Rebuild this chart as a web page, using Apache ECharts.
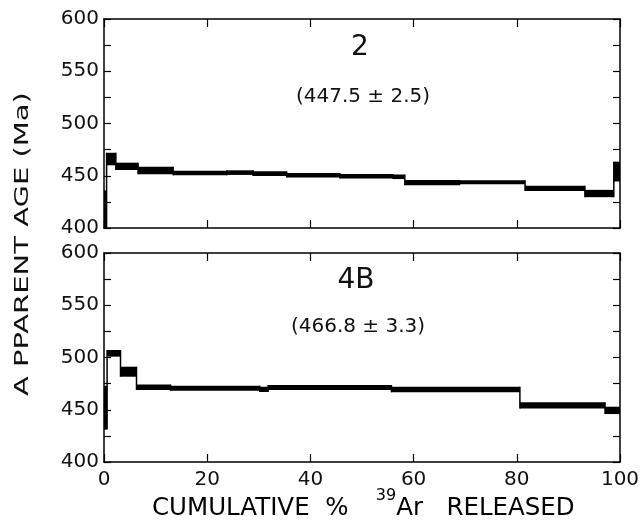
<!DOCTYPE html>
<html><head><meta charset="utf-8">
<script src="https://cdn.jsdelivr.net/npm/echarts@6/dist/echarts.min.js"></script>
<style>html,body{margin:0;padding:0;background:#fff}#c{width:643px;height:529px}</style>
</head><body><div id="c"></div>
<script>
// ---- data ----
const xTickLabels = ['0','20','40','60','80','100'];
const yTickLabels = ['400','450','500','550','600'];
// Sample 2: step edges (cumulative % 39Ar), apparent ages (Ma), half-errors (Ma)
const s2Edges = [0, 0.5, 2.3, 6.6, 13.4, 23.8, 28.9, 35.4, 45.7, 56.0, 58.3, 68.9, 81.6, 93.2, 98.8, 100];
const s2Age   = [418, 466, 459, 455, 452.7, 453, 452, 450.5, 449.5, 449, 443.5, 444, 438, 433, 454];
const s2Err   = [18, 6, 3.5, 3.5, 2.2, 2.2, 2.2, 2.2, 2.2, 2.2, 2.5, 1.8, 2.5, 3.5, 9.5];
// Sample 4B
const s4Edges = [0, 0.6, 3.2, 6.3, 12.9, 30.2, 31.8, 55.7, 80.6, 97.1, 100];
const s4Age   = [452, 504, 486.4, 471.5, 470.6, 469.5, 471.3, 469.3, 454.2, 449.4];
const s4Err   = [21, 3.2, 4.8, 2.6, 2.4, 2.5, 2.4, 2.6, 2.9, 3.5];
const panelNames = ['2', '4B'];
const plateauText = ['(447.5 \u00b1 2.5)', '(466.8 \u00b1 3.3)'];

function boxes(edges, ages, errs){
  return ages.map((a,i)=>[edges[i], edges[i+1], a-errs[i], a+errs[i]]);
}
function links(edges, ages, errs){
  const out=[];
  for(let i=1;i<ages.length;i++){
    const lo=Math.min(ages[i-1]-errs[i-1], ages[i]-errs[i]);
    const hi=Math.max(ages[i-1]+errs[i-1], ages[i]+errs[i]);
    out.push([edges[i], lo, hi]);
  }
  return out;
}
function renderBox(params, api){
  const p1 = api.coord([api.value(0), api.value(3)]);
  const p2 = api.coord([api.value(1), api.value(2)]);
  const h = Math.max(p2[1]-p1[1], 4);
  return {type:'rect', shape:{x:p1[0], y:p1[1], width:p2[0]-p1[0], height:h}, style:{fill:'#000'}};
}
function renderLink(params, api){
  const a = api.coord([api.value(0), api.value(1)]);
  const b = api.coord([api.value(0), api.value(2)]);
  return {type:'line', shape:{x1:a[0], y1:a[1], x2:b[0], y2:b[1]}, style:{stroke:'#000', lineWidth:1.5}};
}

const FONT = 'DejaVu Sans';
const grids = [
  {left:104, right:23, top:19, height:209},
  {left:104, right:23, top:253, height:209}
];
const xAxes=[], yAxes=[];
for(let g=0; g<2; g++){
  const base = {
    gridIndex:g, type:'value', min:0, max:100, interval:20,
    axisLine:{show:true, onZero:false, lineStyle:{color:'#000', width:1.5}},
    axisTick:{show:true, inside:true, length:8, lineStyle:{color:'#000', width:1.2}},
    splitLine:{show:false}
  };
  xAxes.push(Object.assign({}, base, {position:'bottom',
    axisLabel:{show:g===1, color:'#111', fontSize:20, fontFamily:FONT, margin:8,
      formatter:(v)=>xTickLabels[Math.round(v/20)]}}));
  xAxes.push(Object.assign({}, base, {position:'top', axisLabel:{show:false}}));
  const ybase = {
    gridIndex:g, type:'value', min:400, max:600, interval:50,
    axisLine:{show:true, onZero:false, lineStyle:{color:'#000', width:1.5}},
    axisTick:{show:true, inside:true, length:7, lineStyle:{color:'#000', width:1.2}},
    minorTick:{show:true, splitNumber:2, length:7, lineStyle:{color:'#000', width:1.2}},
    splitLine:{show:false}
  };
  yAxes.push(Object.assign({}, ybase, {position:'left',
    axisLabel:{show:true, color:'#111', fontSize:20, fontFamily:FONT, margin:5,
      formatter:(v)=>yTickLabels[Math.round((v-400)/50)]}}));
  yAxes.push(Object.assign({}, ybase, {position:'right', axisLabel:{show:false}}));
}

const sets = [[s2Edges,s2Age,s2Err],[s4Edges,s4Age,s4Err]];
const series=[];
sets.forEach((s,g)=>{
  series.push({type:'custom', xAxisIndex:g*2, yAxisIndex:g*2, clip:true,
    renderItem:renderLink, data:links(s[0],s[1],s[2]), encode:{x:0,y:[1,2]}, silent:true});
  series.push({type:'custom', xAxisIndex:g*2, yAxisIndex:g*2, clip:true,
    renderItem:renderBox, data:boxes(s[0],s[1],s[2]), encode:{x:[0,1],y:[2,3]}, silent:true});
});

function txt(t, x, y, size){
  return {type:'text', x:x, y:y, style:{text:t, font:size+'px "'+FONT+'"', fill:'#111', align:'center', verticalAlign:'middle'}};
}

const chart = echarts.init(document.getElementById('c'), null, {renderer:'canvas'});
chart.setOption({
  animation:false,
  backgroundColor:'#fff',
  grid:grids, xAxis:xAxes, yAxis:yAxes, series:series,
  graphic:[
    txt(panelNames[0], 360, 48, 28),
    txt(plateauText[0], 363, 97, 20),
    txt(panelNames[1], 356, 281, 28),
    txt(plateauText[1], 358, 327, 20),
    {type:'text', x:152, y:509, style:{
      rich:{
        n:{fontSize:24.5, fontFamily:FONT, color:'#111', verticalAlign:'middle'},
        sup:{fontSize:16, fontFamily:FONT, color:'#111', verticalAlign:'middle', padding:[0,0,26,4]}
      },
      verticalAlign:'middle',
      text:'{n|CUMULATIVE  %   }{sup|39}{n|Ar   RELEASED}'
    }},
    {type:'text', x:23, y:244, rotation:Math.PI/2, scaleX:1.45, style:{
      text:'A PPARENT AGE (Ma)', font:'20px "'+FONT+'"', fill:'#111', align:'center', verticalAlign:'middle'
    }}
  ]
});
</script>
</body></html>
